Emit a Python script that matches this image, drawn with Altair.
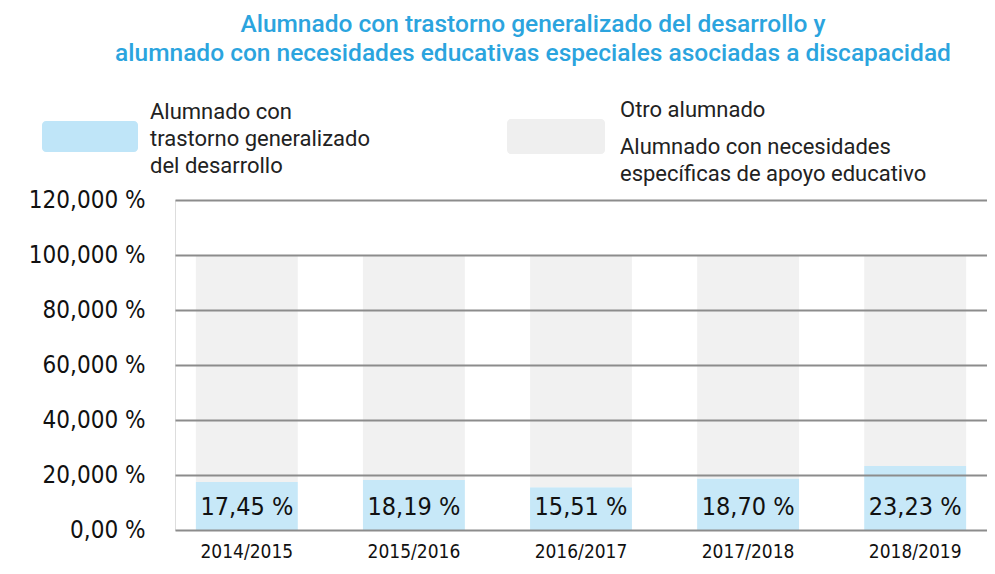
import altair as alt
import pandas as pd

years = ["2014/2015", "2015/2016", "2016/2017", "2017/2018", "2018/2019"]
tgd = [17.45, 18.19, 15.51, 18.70, 23.23]
total = [100, 100, 100, 100, 100]
title_lines = ["Alumnado con trastorno generalizado del desarrollo y",
               "alumnado con necesidades educativas especiales asociadas a discapacidad"]
legend_left = ["Alumnado con", "trastorno generalizado", "del desarrollo"]
legend_right = ["Otro alumnado", "Alumnado con necesidades", "específicas de apoyo educativo"]
y_ticks = [0, 20, 40, 60, 80, 100, 120]

HAND = "DejaVu Sans Condensed, sans-serif"
BLUE = "#c4e7f8"
GRAY = "#f0f0f0"

rows = []
for yr, v, t in zip(years, tgd, total):
    rows.append({"year": yr, "serie": "tgd", "y0": 0, "y1": v})
    rows.append({"year": yr, "serie": "otro", "y0": v, "y1": t})
df = pd.DataFrame(rows)
lab = pd.DataFrame({"year": years, "v": tgd,
                    "txt": [f"{v:.2f}".replace(".", ",") + " %" for v in tgd]})

xscale = alt.Scale(domain=years, paddingInner=0.39, paddingOuter=0.125)
yscale = alt.Scale(domain=[0, 120], nice=False)

bars = alt.Chart(df).mark_rect(opacity=0.95).encode(
    x=alt.X("year:N", scale=xscale, sort=years, axis=alt.Axis(
        title=None, labelFont=HAND, labelFontSize=19, labelColor="#111",
        labelPadding=12, ticks=False, domain=False, labelAngle=0)),
    y=alt.Y("y0:Q", scale=yscale, axis=alt.Axis(
        title=None, values=y_ticks, labelFont=HAND, labelFontSize=24,
        labelColor="#111", labelPadding=30, ticks=False, domain=False,
        grid=True, gridColor="#8c8c8c", gridWidth=2, zindex=1,
        labelExpr="datum.value == 0 ? '0,00 %' : replace(format(datum.value, '.3f'), '.', ',') + ' %'")),
    y2="y1:Q",
    color=alt.Color("serie:N", scale=alt.Scale(domain=["tgd", "otro"], range=[BLUE, GRAY]), legend=None),
)

labels = alt.Chart(lab).mark_text(font=HAND, fontSize=25, color="#111", baseline="middle").encode(
    x=alt.X("year:N", scale=xscale, sort=years),
    y=alt.datum(8.3),
    text="txt:N",
)

title_df = pd.DataFrame({"t": title_lines, "i": [0, 1]})
title = alt.Chart(title_df).mark_text(font="Roboto", fontSize=24.5, fontWeight=500,
                                      color="#2ba4de", align="center", baseline="middle").encode(
    text="t:N", x=alt.value(358),
    y=alt.Y("i:Q", scale=alt.Scale(domain=[0, 1], range=[-175, -146]), axis=None),
)

sw_blue = alt.Chart(pd.DataFrame({"a": [1]})).mark_rect(color="#bfe5f8", cornerRadius=4).encode(
    x=alt.value(-133), x2=alt.value(-37), y=alt.value(-79), y2=alt.value(-48))
sw_gray = alt.Chart(pd.DataFrame({"a": [1]})).mark_rect(color="#efefef", cornerRadius=4).encode(
    x=alt.value(332), x2=alt.value(430), y=alt.value(-81), y2=alt.value(-46))

ll = alt.Chart(pd.DataFrame({"t": legend_left, "i": [0, 1, 2]})).mark_text(
    font="Roboto", fontSize=22, color="#222", align="left", baseline="middle").encode(
    text="t:N", x=alt.value(-25),
    y=alt.Y("i:Q", scale=alt.Scale(domain=[0, 2], range=[-88, -34]), axis=None))
lr = alt.Chart(pd.DataFrame({"t": legend_right, "i": [0, 1, 2]})).mark_text(
    font="Roboto", fontSize=22, color="#222", align="left", baseline="middle").encode(
    text="t:N", x=alt.value(445),
    y=alt.Y("i:Q", scale=alt.Scale(domain=[0, 1, 2], range=[-90, -53, -26], type="linear"), axis=None))

chart = alt.layer(bars, labels).resolve_scale(y="shared")
deco = alt.layer(title, sw_blue, sw_gray, ll, lr).resolve_scale(y="independent")
full = alt.layer(chart, deco).resolve_scale(y="independent").properties(
    width=812, height=330,
    autosize=alt.AutoSizeParams(type="none"),
    padding={"left": 167, "top": 192, "right": 0, "bottom": 34},
).configure_view(stroke=None).configure(background="white")

full.save("out.html", embed_options={"renderer": "svg", "actions": False})
